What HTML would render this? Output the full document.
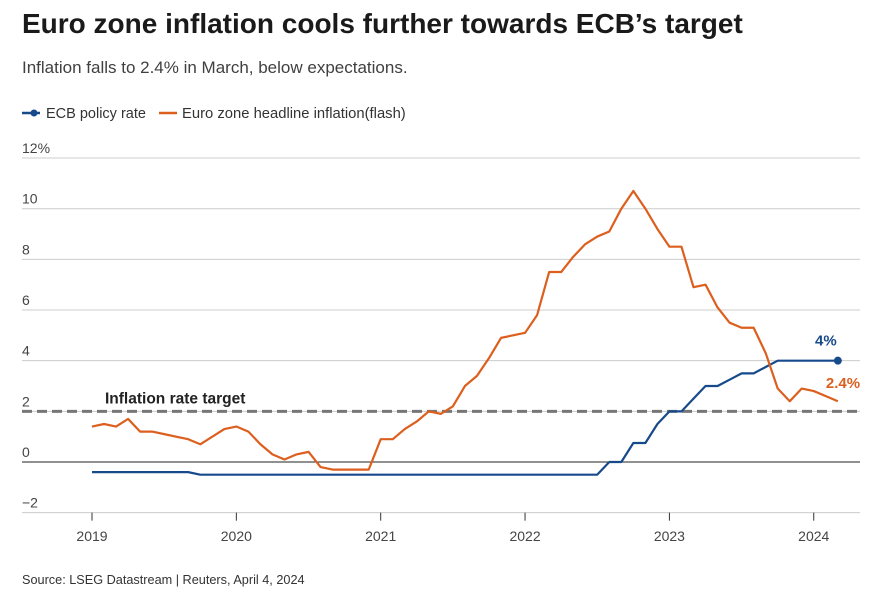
<!DOCTYPE html>
<html><head><meta charset="utf-8"><style>
body{margin:0;background:#fff;width:890px;height:591px;overflow:hidden;font-family:"Liberation Sans",sans-serif}
</style></head><body>
<svg width="890" height="591" style="font-family:'Liberation Sans',sans-serif">
<text x="22" y="33" font-size="28" font-weight="bold" fill="#1a1a1a">Euro zone inflation cools further towards ECB’s target</text>
<text x="22" y="73" font-size="17" fill="#404040">Inflation falls to 2.4% in March, below expectations.</text>
<g>
<g><line x1="22" y1="113" x2="40" y2="113" stroke="#174a8b" stroke-width="2.5"/><circle cx="34" cy="113" r="3.5" fill="#174a8b"/><text x="46" y="118" font-size="14.5" fill="#333">ECB policy rate</text></g>
<g><line x1="159" y1="113" x2="177" y2="113" stroke="#dc5f1e" stroke-width="2.5"/><text x="182" y="118" font-size="14.8" fill="#333">Euro zone headline inflation(flash)</text></g>
</g>
<g id="grid"></g><g id="series"></g>
<text x="22" y="584" font-size="12.7" fill="#333">Source: LSEG Datastream | Reuters, April 4, 2024</text>
</svg>
<script>
const yTicks=[-2,0,2,4,6,8,10,12];
const yTickLabels=["−2","0","2","4","6","8","10","12%"];
const xYears=[2019,2020,2021,2022,2023,2024];
const inflation=[1.4,1.5,1.4,1.7,1.2,1.2,1.1,1.0,0.9,0.7,1.0,1.3,
1.4,1.2,0.7,0.3,0.1,0.3,0.4,-0.2,-0.3,-0.3,-0.3,-0.3,
0.9,0.9,1.3,1.6,2.0,1.9,2.2,3.0,3.4,4.1,4.9,5.0,
5.1,5.8,7.5,7.5,8.1,8.6,8.9,9.1,10.0,10.7,10.0,9.2,
8.5,8.5,6.9,7.0,6.1,5.5,5.3,5.3,4.3,2.9,2.4,2.9,
2.8,2.6,2.4];
const ecbRate=[-0.4,-0.4,-0.4,-0.4,-0.4,-0.4,-0.4,-0.4,-0.4,-0.5,-0.5,-0.5,
-0.5,-0.5,-0.5,-0.5,-0.5,-0.5,-0.5,-0.5,-0.5,-0.5,-0.5,-0.5,
-0.5,-0.5,-0.5,-0.5,-0.5,-0.5,-0.5,-0.5,-0.5,-0.5,-0.5,-0.5,
-0.5,-0.5,-0.5,-0.5,-0.5,-0.5,-0.5,0,0,0.75,0.75,1.5,
2.0,2.0,2.5,3.0,3.0,3.25,3.5,3.5,3.75,4.0,4.0,4.0,
4.0,4.0,4.0];
const target=2;
const NS="http://www.w3.org/2000/svg";
const y=v=>462-v*25.33;
const x=i=>92+i*12.03;
const xYear=yr=>92+(yr-2019)*144.35;
const grid=document.getElementById('grid'),ser=document.getElementById('series');
function mk(tag,attrs,parent){const e=document.createElementNS(NS,tag);for(const k in attrs)e.setAttribute(k,attrs[k]);parent.appendChild(e);return e;}
yTicks.forEach((t,i)=>{
 const l=mk('line',{x1:22,x2:860,y1:y(t),y2:y(t),stroke:t===0?'#222':'#ccc','stroke-width':1},grid);
 
 
 const tx=mk('text',{x:22,y:y(t)-5,'font-size':14,fill:'#444'},grid);tx.textContent=yTickLabels[i];
 
 
});
xYears.forEach(yr=>{
 const l=mk('line',{x1:xYear(yr),x2:xYear(yr),y1:y(-2),y2:y(-2)+8,stroke:'#333'},grid);
 
 
 const tx=mk('text',{x:xYear(yr),y:541,'font-size':14,fill:'#444','text-anchor':'middle'},grid);tx.textContent=yr;
 
 
});
const tl=mk('line',{x1:22,x2:860,y1:y(target),y2:y(target),stroke:'#777','stroke-width':3,'stroke-dasharray':'10 5'},ser);


const tt=mk('text',{x:105,y:y(target)-8,'font-size':15.5,'font-weight':'bold',fill:'#222'},ser);tt.textContent='Inflation rate target';


const pe=mk('polyline',{points:ecbRate.map((v,i)=>x(i)+','+y(v)).join(' '),fill:'none',stroke:'#174a8b','stroke-width':2.2,'stroke-linejoin':'round'},ser);


const pi=mk('polyline',{points:inflation.map((v,i)=>x(i)+','+y(v)).join(' '),fill:'none',stroke:'#dc5f1e','stroke-width':2.2,'stroke-linejoin':'round'},ser);


const n=ecbRate.length-1;
const dot=mk('circle',{cx:x(n),cy:y(ecbRate[n]),r:4,fill:'#174a8b'},ser);


const el=mk('text',{x:x(n)-12,y:y(ecbRate[n])-15,'font-size':15,'font-weight':'bold',fill:'#174a8b','text-anchor':'middle'},ser);el.textContent=ecbRate[n]+'%';


const m=inflation.length-1;
const il=mk('text',{x:x(m)-12,y:y(inflation[m])-13,'font-size':15,'font-weight':'bold',fill:'#dc5f1e'},ser);il.textContent=inflation[m]+'%';


</script>
</body></html>
